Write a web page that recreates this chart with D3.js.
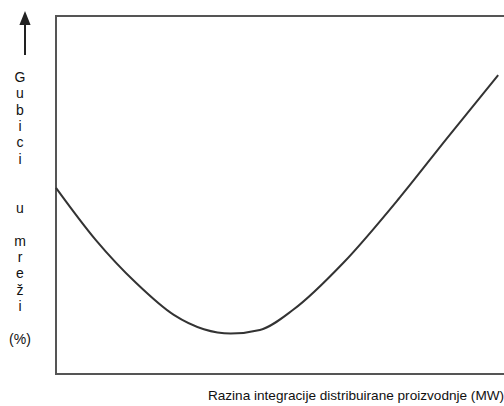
<!DOCTYPE html>
<html>
<head>
<meta charset="utf-8">
<script src="https://cdn.jsdelivr.net/npm/d3@7"></script>
<style>
  body { margin: 0; background: #fff; }
  text { font-family: "Liberation Sans", Arial, sans-serif; fill: #111; }
</style>
</head>
<body>
<div id="chart"></div>
<script>
// gubici u mrezi vs. razina integracije DG (relative units, no ticks in original)
var xValues = [0, 0.89, 1.79, 2.63, 3.3, 3.9, 4.55, 5.3, 6.41, 7.68, 8.73, 9.87];
var yValues = [5.2, 3.74, 2.54, 1.65, 1.25, 1.13, 1.23, 1.8, 3.1, 4.94, 6.59, 8.35];

// one letter per row, empty rows are gaps
var yLetters = ["G", "u", "b", "i", "c", "i", "", "", "u", "", "m", "r", "e", "ž", "i", "", "(%)"];
var xTitle = "Razina integracije distribuirane proizvodnje (MW)";

var width = 504, height = 406;
var margin = {top: 16, right: 0, bottom: 32, left: 56};

var svg = d3.select("#chart").append("svg")
    .attr("width", width)
    .attr("height", height);

var x_scale = d3.scaleLinear().domain([0, 10]).range([margin.left, width - margin.right]);
var y_scale = d3.scaleLinear().domain([0, 10]).range([height - margin.bottom, margin.top]);

// frame: left, top and bottom only
svg.append("path")
    .attr("d", "M" + width + "," + y_scale(10) + "H" + x_scale(0) + "V" + y_scale(0) + "H" + width)
    .attr("fill", "none")
    .attr("stroke", "#555")
    .attr("stroke-width", 2);

var line = d3.line()
    .x(function (d, i) { return x_scale(xValues[i]); })
    .y(function (d) { return y_scale(d); })
    .curve(d3.curveMonotoneX);

svg.append("path")
    .attr("d", line(yValues))
    .attr("fill", "none")
    .attr("stroke", "#333")
    .attr("stroke-width", 2);

// up arrow
svg.append("defs").append("marker")
    .attr("id", "arrow")
    .attr("viewBox", "0 0 10 10")
    .attr("refX", 5).attr("refY", 5)
    .attr("markerWidth", 7).attr("markerHeight", 7)
    .attr("orient", "auto")
    .append("path")
    .attr("d", "M0,1L10,5L0,9Z")
    .attr("fill", "#222");

svg.append("line")
    .attr("x1", 25).attr("x2", 25)
    .attr("y1", 55).attr("y2", 18)
    .attr("stroke", "#222")
    .attr("stroke-width", 2)
    .attr("marker-end", "url(#arrow)");

// vertical label
svg.selectAll(".yl")
    .data(yLetters)
    .enter().append("text")
    .attr("class", "yl")
    .attr("x", 20)
    .attr("y", function (d, i) { return 82 + i * 16.35; })
    .attr("text-anchor", "middle")
    .style("font-size", "14px")
    .text(function (d) { return d; });

svg.append("text")
    .attr("x", 356)
    .attr("y", 400)
    .attr("text-anchor", "middle")
    .style("font-size", "13.6px")
    .text(xTitle);
</script>
</body>
</html>
